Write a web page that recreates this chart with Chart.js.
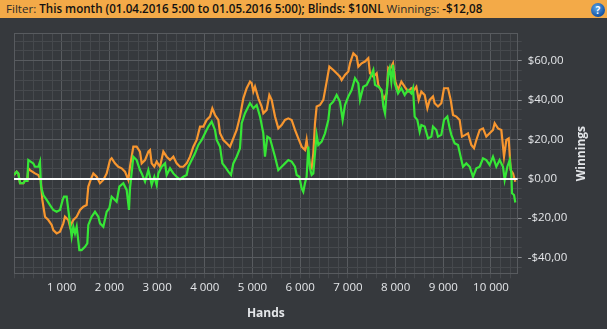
<!DOCTYPE html>
<html>
<head>
<meta charset="utf-8">
<script src="https://cdn.jsdelivr.net/npm/chart.js@4"></script>
<style>
  body { margin: 0; width: 607px; height: 329px; background: #36393d; overflow: hidden; font-family: "Open Sans", sans-serif; }
  .filter-bar { position: relative; height: 18px; background: #f3aa48; color: #2a2a2a; font-size: 11.6px; line-height: 18px; padding-left: 6px; white-space: nowrap; }
  .filter-bar b { color: #111; font-weight: 600; }
  .help { position: absolute; right: 2px; top: 3px; width: 14px; height: 14px; border-radius: 50%;
          background: radial-gradient(circle at 40% 35%, #5aa5ea, #1454a3 70%); color: #fff;
          font: bold 10px/14px "Open Sans", sans-serif; text-align: center; }
  .wrap { position: absolute; left: 0; top: 18px; width: 607px; height: 311px; }
</style>
</head>
<body>
<div class="filter-bar">Filter: <b>This month (01.04.2016 5:00 to 01.05.2016 5:00); Blinds: $10NL</b> Winnings: <b>-$12,08</b><span class="help">?</span></div>
<div class="wrap"><canvas id="graph" width="607" height="311"></canvas></div>
<script>
// hands played / cumulative winnings in $
const greenHands = [0, 56, 91, 126, 196, 230, 279, 300, 405, 440, 510, 545, 566, 615, 685, 755, 824, 894, 964, 1020,
  1048, 1104, 1139, 1174, 1209, 1244, 1279, 1314, 1370, 1418, 1488, 1537, 1558, 1628, 1698, 1768, 1803, 1873, 1943, 1999,
  2047, 2117, 2152, 2208, 2292, 2362, 2411, 2432, 2502, 2571, 2641, 2677, 2747, 2817, 2851, 2886, 2942, 2991, 3026, 3096,
  3166, 3201, 3271, 3341, 3410, 3480, 3550, 3620, 3655, 3725, 3795, 3865, 3935, 4004, 4074, 4144, 4214, 4249, 4319, 4368,
  4424, 4494, 4550, 4598, 4668, 4738, 4773, 4843, 4913, 4948, 5018, 5088, 5158, 5227, 5262, 5311, 5367, 5423, 5472, 5541,
  5611, 5681, 5751, 5821, 5891, 5926, 5982, 6031, 6065, 6100, 6135, 6170, 6205, 6240, 6275, 6310, 6345, 6380, 6450, 6520,
  6590, 6625, 6694, 6764, 6834, 6890, 6939, 7009, 7079, 7149, 7219, 7254, 7323, 7393, 7463, 7533, 7568, 7638, 7708, 7743,
  7777, 7847, 7876, 7911, 7946, 7981, 8051, 8121, 8190, 8260, 8330, 8365, 8400, 8456, 8505, 8540, 8610, 8680, 8750, 8784,
  8854, 8889, 8959, 9015, 9085, 9134, 9169, 9239, 9309, 9364, 9413, 9483, 9553, 9623, 9693, 9763, 9833, 9902, 9972, 10042,
  10112, 10182, 10252, 10287, 10343, 10392, 10427, 10441, 10483, 10510];
const greenWinnings = [1.9, 3.6, 2.7, -2.3, -2.3, -1.0, -1.1, 9.5, 7.8, 6.1, 6.1, 8.7, -4.0, -8.3, -10.8, -13.4, -15.9, -16.8, -15.9, -10.8,
  -9.1, -9.1, -15.9, -22.7, -29.5, -24.4, -27.8, -24.4, -36.3, -36.3, -34.6, -32.9, -23.5, -19.3, -16.8, -19.3, -22.7, -24.4, -16.8, -15.0,
  -9.1, -10.8, -11.7, -4.0, -2.3, -5.7, -15.9, -4.9, 11.2, 9.5, 4.4, 2.7, -1.5, 4.4, 1.0, -3.2, 1.0, -3.2, 2.7, 6.1,
  7.8, 1.9, 5.3, 2.7, 1.0, -0.3, 1.0, 1.9, 6.1, 9.5, 12.9, 17.2, 19.7, 23.1, 26.5, 29.0, 24.8, 19.7, 16.3, 7.8,
  6.1, 3.6, 1.9, 7.8, 11.2, 15.5, 28.2, 33.3, 36.7, 38.4, 35.8, 37.5, 31.6, 23.1, 11.2, 21.4, 20.5, 15.5, 11.2, 4.4,
  6.1, 7.8, 9.5, 8.7, 6.1, 1.9, 1.0, -4.9, -6.6, -2.3, 1.0, 16.3, 5.3, 1.9, 2.7, 12.9, 22.3, 17.2, 18.9, 23.1,
  29.9, 37.5, 39.2, 42.6, 39.2, 29.9, 37.5, 41.8, 45.1, 51.1, 48.5, 40.1, 46.8, 47.7, 51.1, 55.3, 47.7, 46.8, 45.1, 36.7,
  33.3, 53.6, 56.2, 49.4, 57.9, 48.5, 43.4, 46.0, 42.6, 45.1, 43.4, 46.0, 31.6, 29.9, 23.9, 27.3, 26.5, 20.5, 21.4, 26.5,
  24.8, 21.4, 22.3, 29.9, 31.6, 25.6, 22.3, 18.0, 17.2, 11.2, 6.1, 7.8, 6.1, 1.0, 5.3, 6.1, 10.4, 9.5, 7.0, 11.2,
  6.1, 9.5, 6.1, -0.6, 6.1, 9.5, 2.7, -7.4, -8.3, -12.1];

const orangeHands = [0, 56, 91, 126, 196, 230, 279, 300, 335, 440, 510, 559, 594, 650, 720, 790, 824, 894, 964, 1034,
  1069, 1139, 1174, 1244, 1314, 1384, 1453, 1523, 1558, 1607, 1663, 1733, 1803, 1873, 1943, 2013, 2047, 2117, 2187, 2257,
  2327, 2397, 2432, 2502, 2571, 2641, 2677, 2747, 2817, 2851, 2886, 2942, 2991, 3061, 3131, 3201, 3271, 3341, 3410, 3480,
  3550, 3620, 3690, 3760, 3830, 3900, 3970, 4039, 4109, 4158, 4214, 4284, 4319, 4389, 4459, 4529, 4598, 4668, 4738, 4808,
  4878, 4948, 4983, 5018, 5053, 5123, 5192, 5227, 5297, 5353, 5402, 5472, 5541, 5611, 5681, 5751, 5821, 5891, 5961, 6031,
  6100, 6135, 6170, 6205, 6240, 6275, 6310, 6345, 6415, 6485, 6555, 6611, 6694, 6764, 6834, 6869, 6939, 7009, 7044, 7114,
  7184, 7219, 7288, 7358, 7428, 7463, 7533, 7603, 7638, 7708, 7743, 7812, 7847, 7876, 7946, 7995, 8051, 8121, 8190, 8260,
  8330, 8386, 8435, 8484, 8540, 8610, 8666, 8715, 8784, 8819, 8889, 8959, 9015, 9099, 9155, 9204, 9274, 9343, 9392, 9462,
  9518, 9588, 9644, 9693, 9763, 9833, 9902, 9972, 10042, 10077, 10147, 10217, 10273, 10322, 10371, 10413, 10462, 10510];
const orangeWinnings = [1.9, 3.6, 2.7, -2.3, -2.3, -1.0, -1.1, 5.3, 4.4, 2.7, 1.9, -0.6, -10.8, -19.3, -21.0, -23.5, -26.1, -27.8, -26.9, -22.7,
  -19.3, -21.0, -24.4, -21.0, -19.3, -15.9, -14.2, -13.4, -4.0, -0.6, 2.7, 1.0, -2.3, -0.6, 2.7, 9.5, 10.4, 7.8, 6.1, 5.3,
  3.6, -0.6, 6.1, 16.3, 16.3, 13.8, 7.8, 9.5, 13.8, 14.6, 7.8, 6.1, 8.7, 6.1, 13.8, 11.2, 9.5, 11.2, 7.8, 6.1,
  6.1, 7.8, 11.2, 16.3, 19.7, 26.5, 26.5, 29.9, 31.6, 35.8, 32.4, 29.9, 23.1, 19.7, 18.0, 16.3, 20.5, 24.8, 31.6, 40.9,
  46.0, 49.4, 48.5, 44.3, 46.8, 40.9, 36.7, 33.3, 35.0, 42.6, 40.1, 31.6, 25.6, 27.3, 29.9, 30.7, 29.9, 24.8, 20.5, 16.3,
  14.6, 19.7, 12.9, 6.1, 5.3, 12.9, 28.2, 36.7, 37.5, 40.1, 49.4, 57.0, 55.3, 53.6, 51.9, 50.2, 52.8, 54.5, 58.7, 63.8,
  62.1, 57.0, 58.7, 59.6, 61.3, 53.6, 51.9, 53.6, 47.7, 44.3, 40.1, 43.4, 56.2, 55.3, 58.7, 49.4, 45.1, 49.4, 46.8, 44.3,
  46.0, 45.1, 46.8, 40.1, 44.3, 42.6, 35.8, 40.1, 41.8, 38.4, 36.7, 38.4, 46.0, 46.0, 40.1, 32.4, 31.6, 29.9, 21.4, 22.3,
  23.1, 17.2, 15.5, 19.7, 24.8, 25.6, 21.4, 23.1, 24.8, 28.2, 25.6, 24.8, 11.2, 19.7, 20.5, 4.4, 2.7, -1.5];

const xRange = [0, 10560];
const yRange = [-48.6, 74.1];
const xGridStep = 200;
const xLabelStep = 1000;
const yGridStep = 5;
const yLabelStep = 20;

const gridMinor = '#46494d';
const gridMajor = '#585b5f';
const labelColor = '#e4e6e9';
const tickFont = { family: '"Open Sans", sans-serif', size: 11.5 };

function fmtHands(v) {
  return String(v).replace(/\B(?=(\d{3})+(?!\d))/g, ' ');
}
function fmtMoney(v) {
  return (v < 0 ? '-' : '') + '$' + Math.abs(v).toFixed(2).replace('.', ',');
}
function toPoints(xs, ys) {
  return xs.map((x, i) => ({ x: x, y: ys[i] }));
}
// gridline positions: every step that falls inside [lo, hi]
function gridTicks(lo, hi, step) {
  const out = [];
  for (let v = Math.ceil(lo / step) * step; v <= hi; v += step) out.push({ value: v });
  return out;
}
function isMajor(c, step) {
  return c.tick && Math.abs(c.tick.value % step) < 1e-6;
}

// frame, white zero line and the right-hand "Winnings" title
const extras = {
  id: 'extras',
  beforeDatasetsDraw(chart) {
    const { ctx, chartArea: a } = chart;
    ctx.save();
    ctx.strokeStyle = gridMajor;
    ctx.lineWidth = 1;
    ctx.strokeRect(Math.round(a.left) + 0.5, Math.round(a.top) + 0.5,
                   Math.round(a.right - a.left) - 1, Math.round(a.bottom - a.top) - 1);
    ctx.restore();
  },
  afterDatasetsDraw(chart) {
    const { ctx, chartArea: a, scales } = chart;
    const y0 = Math.round(scales.y.getPixelForValue(0));
    ctx.save();
    ctx.strokeStyle = '#ffffff';
    ctx.lineWidth = 2;
    ctx.beginPath();
    ctx.moveTo(a.left, y0);
    ctx.lineTo(a.right, y0);
    ctx.stroke();
    ctx.restore();
  },
  afterDraw(chart) {
    const { ctx, chartArea: a } = chart;
    ctx.save();
    ctx.translate(582, (a.top + a.bottom) / 2);
    ctx.rotate(-Math.PI / 2);
    ctx.fillStyle = labelColor;
    ctx.font = 'bold 12px "Open Sans", sans-serif';
    ctx.textAlign = 'center';
    ctx.textBaseline = 'middle';
    ctx.fillText('Winnings', 0, 0);
    ctx.restore();
  }
};

const ctx = document.getElementById('graph').getContext('2d');
const graph = new Chart(ctx, {
  type: 'line',
  data: {
    datasets: [
      {
        label: 'Winnings',
        data: toPoints(greenHands, greenWinnings),
        borderColor: '#36e636',
        borderWidth: 2.2,
        pointRadius: 0,
        tension: 0,
        order: 1
      },
      {
        label: 'All-in EV',
        data: toPoints(orangeHands, orangeWinnings),
        borderColor: '#f7962f',
        borderWidth: 2.2,
        pointRadius: 0,
        tension: 0,
        order: 2
      }
    ]
  },
  options: {
    responsive: false,
    animation: false,
    devicePixelRatio: 1,
    layout: { padding: { left: 14, top: 15, right: 0, bottom: 0 } },
    plugins: {
      legend: { display: false },
      tooltip: { enabled: false }
    },
    scales: {
      x: {
        type: 'linear',
        min: xRange[0],
        max: xRange[1],
        afterBuildTicks: s => { s.ticks = gridTicks(xRange[0], xRange[1], xGridStep); },
        afterFit: s => { s.height = 54.7; },
        border: { display: false },
        grid: {
          color: c => isMajor(c, xLabelStep) ? gridMajor : gridMinor,
          tickColor: gridMinor,
          tickLength: 4
        },
        ticks: {
          autoSkip: false,
          maxRotation: 0,
          padding: 3,
          color: labelColor,
          font: tickFont,
          callback: v => (v > 0 && v % xLabelStep === 0) ? fmtHands(v) : ''
        },
        title: {
          display: true,
          text: 'Hands',
          color: labelColor,
          font: { family: '"Open Sans", sans-serif', size: 12, weight: 'bold' },
          padding: { top: 0, bottom: 8 }
        }
      },
      y: {
        position: 'right',
        min: yRange[0],
        max: yRange[1],
        afterBuildTicks: s => { s.ticks = gridTicks(yRange[0], yRange[1], yGridStep); },
        afterFit: s => { s.width = 89.3; },
        border: { display: false },
        grid: {
          color: c => isMajor(c, yLabelStep) ? gridMajor : gridMinor,
          tickColor: c => isMajor(c, yLabelStep) ? '#8a8d90' : gridMinor,
          tickLength: 4
        },
        ticks: {
          autoSkip: false,
          padding: 6,
          color: labelColor,
          font: tickFont,
          callback: v => (Math.abs(v % yLabelStep) < 1e-6) ? fmtMoney(v) : ''
        }
      }
    }
  },
  plugins: [extras]
});
</script>
</body>
</html>
